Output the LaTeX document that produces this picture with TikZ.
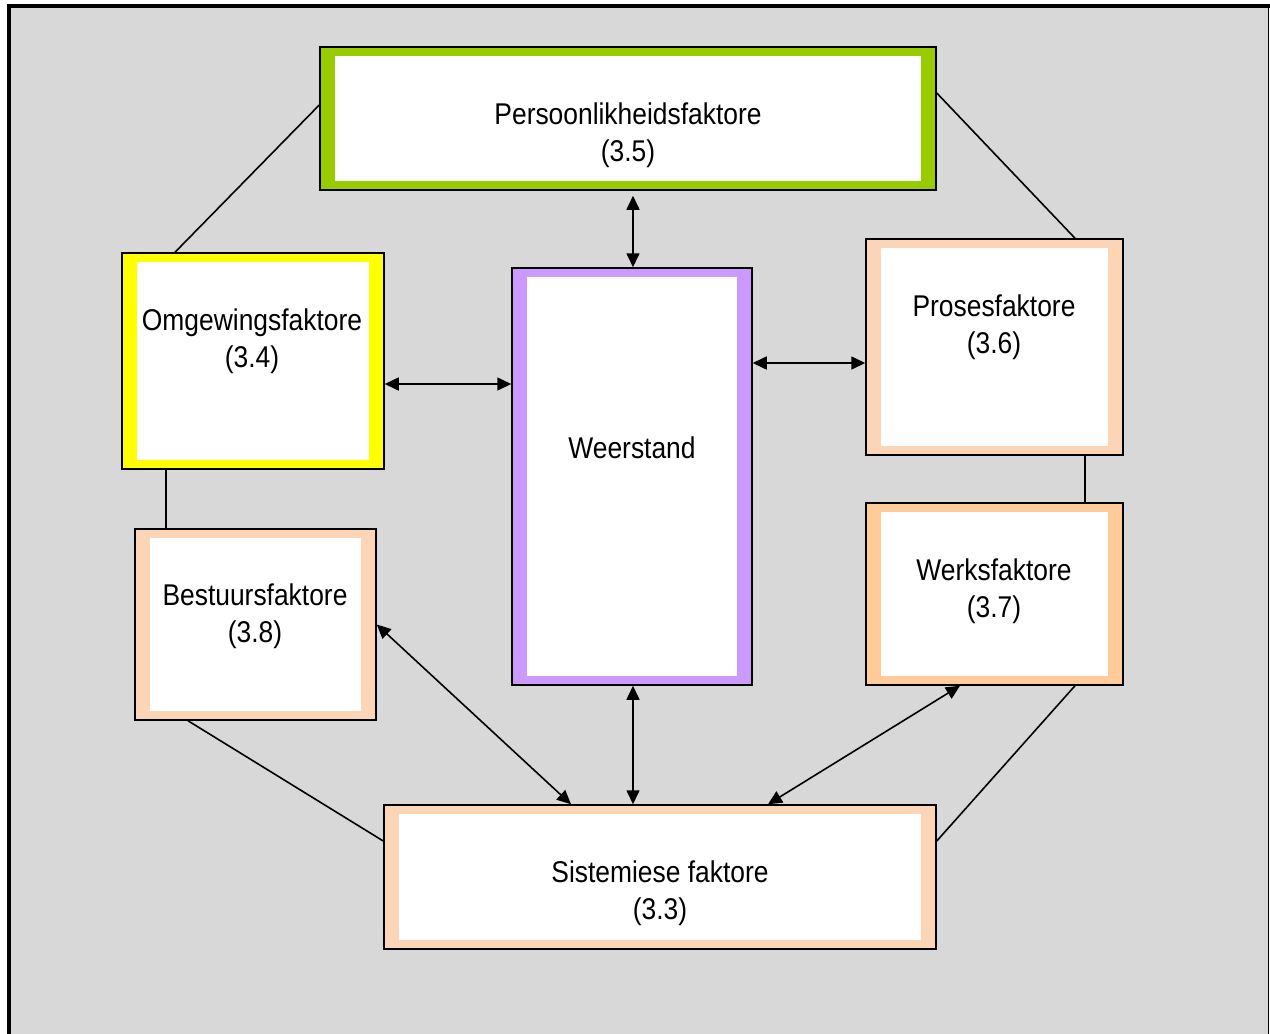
\documentclass[tikz,border=0pt]{standalone}
\usepackage{fontspec}
\setmainfont{Liberation Sans}
\newfontfamily\boxfont[FakeStretch=0.88]{Liberation Sans}
\usetikzlibrary{arrows.meta,calc}

\definecolor{panel}{HTML}{D8D8D8}
\definecolor{leaf}{HTML}{99CC00}
\definecolor{sun}{HTML}{FFFF00}
\definecolor{lilac}{HTML}{CC99FF}
\definecolor{peach}{HTML}{FBD5B5}
\definecolor{apricot}{HTML}{FFCC99}

\tikzset{
  frame/.style={draw=black, line width=1.5pt, inner sep=0pt},
  label text/.style={font=\boxfont\fontsize{30}{37}\selectfont, align=center, text=black},
  link/.style={line width=1.6pt},
  both/.style={link, {Triangle[length=14pt,width=13pt]}-{Triangle[length=14pt,width=13pt]}},
}

% a factor box: coloured band inside a thin black outline, white centre
\newcommand{\factorbox}[6]{% name, x, y, width, height, colour
  \node[frame, fill=#6, minimum width=#4pt, minimum height=#5pt] (#1) at (#2,#3) {};
  \fill[white] ([xshift=16pt,yshift=10pt]#1.south west) rectangle ([xshift=-16pt,yshift=-10pt]#1.north east);
}

\begin{document}
\begin{tikzpicture}[x=1pt,y=-1pt]
  \useasboundingbox (0,0) rectangle (1270,1034);
  % panel
  \fill[panel] (9,6) rectangle (1268.5,1034);
  \draw[line width=4pt] (9,1034) -- (9,6) -- (1270,6);
  \draw[line width=1.6pt] (1268.5,6) -- (1268.5,1034);

  % boxes
  \factorbox{pers}{628}{118.5}{616}{143}{leaf}
  \factorbox{weer}{632}{476.5}{240}{417}{lilac}
  \factorbox{omg}{253}{361}{262}{216}{sun}
  \factorbox{pros}{994.5}{347}{257}{216}{peach}
  \factorbox{werk}{994.5}{594}{257}{182}{apricot}
  \factorbox{best}{255.5}{624.5}{241}{191}{peach}
  \factorbox{sist}{660}{877}{552}{144}{peach}

  % labels
  \node[label text] (tpers) at (628,135) {Persoonlikheidsfaktore\\(3.5)};
  \node[label text] (tomg)  at (252,341.5) {Omgewingsfaktore\\(3.4)};
  \node[label text] (tweer) at (632,448) {Weerstand};
  \node[label text] (tpros) at (994,327.5) {Prosesfaktore\\(3.6)};
  \node[label text] (twerk) at (994,591.5) {Werksfaktore\\(3.7)};
  \node[label text] (tbest) at (255,616.5) {Bestuursfaktore\\(3.8)};
  \node[label text] (tsist) at (660,893.5) {Sistemiese faktore\\(3.3)};

  % outer ring of plain links
  \draw[link] ([yshift=13.5pt]pers.west) -- ([xshift=-78pt]omg.north);
  \draw[link] ([yshift=25.5pt]pers.east) -- ([xshift=80.5pt]pros.north);
  \draw[link] ([xshift=-87pt]omg.south) -- ([xshift=-87pt]omg.south |- best.north);
  \draw[link] ([xshift=90.5pt]pros.south) -- ([xshift=90.5pt]pros.south |- werk.north);
  \draw[link] ([xshift=-67.5pt]best.south) -- ([yshift=36pt]sist.west);
  \draw[link] ([xshift=80.5pt]werk.south) -- ([yshift=36pt]sist.east);

  % two-way links with the centre
  \draw[both] ([xshift=1pt]weer.north) -- ([xshift=1pt,yshift=-5pt]weer.north |- pers.south);
  \draw[both] ([yshift=-23pt]omg.east) -- ([yshift=-23pt]omg.east -| weer.west);
  \draw[both] ([yshift=-16pt]pros.west) -- ([yshift=-16pt]pros.west -| weer.east);
  \draw[both] ([xshift=1pt]weer.south) -- ([xshift=1pt]weer.south |- sist.north);
  \draw[both] (best.east) -- ([xshift=-89pt]sist.north);
  \draw[both] ([xshift=-34.5pt]werk.south) -- ([xshift=108pt]sist.north);
\end{tikzpicture}
\end{document}
